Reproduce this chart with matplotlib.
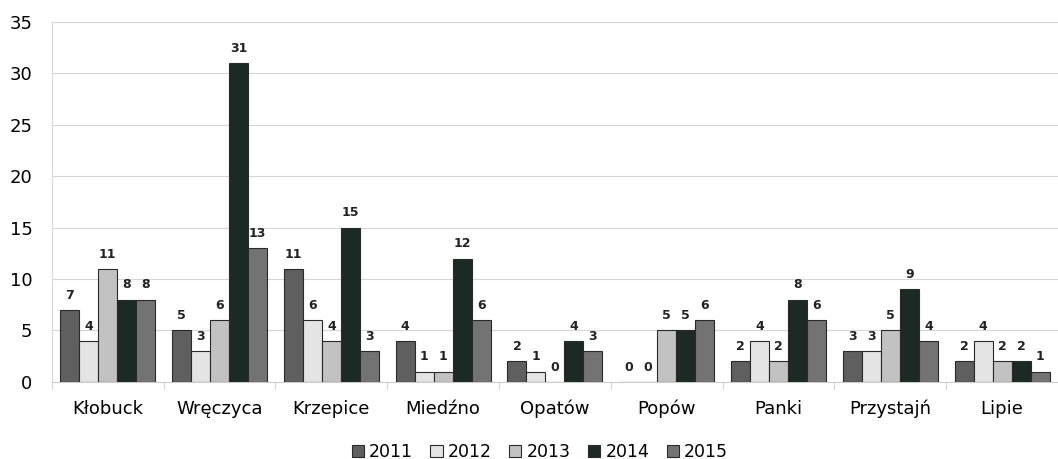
import numpy as np
import matplotlib.pyplot as plt

# Data
gminy = ["Kłobuck", "Wręczyca", "Krzepice", "Miedźno", "Opatów",
         "Popów", "Panki", "Przystajń", "Lipie"]
years = ["2011", "2012", "2013", "2014", "2015"]
v2011 = [7, 5, 11, 4, 2, 0, 2, 3, 2]
v2012 = [4, 3, 6, 1, 1, 0, 4, 3, 4]
v2013 = [11, 6, 4, 1, 0, 5, 2, 5, 2]
v2014 = [8, 31, 15, 12, 4, 5, 8, 9, 2]
v2015 = [8, 13, 3, 6, 3, 6, 6, 4, 1]
series = [v2011, v2012, v2013, v2014, v2015]
colors = ["#5f5f5f", "#e4e4e4", "#c2c2c2", "#1c2a24", "#737373"]

fig = plt.figure(figsize=(10.58, 4.59), dpi=100)
ax = fig.add_axes([0.049, 0.168, 0.951, 0.784])

x = np.arange(len(gminy))
w = 0.17
for i, (vals, c, yr) in enumerate(zip(series, colors, years)):
    pos = x + (i - 2) * w
    bars = ax.bar(pos, vals, w, color=c, edgecolor="#2a2a2a", linewidth=0.8,
                  label=yr, zorder=3)
    for b, v in zip(bars, vals):
        ax.text(b.get_x() + b.get_width() / 2, v + 0.8, str(v),
                ha="center", va="bottom", fontsize=9, fontweight="bold",
                color="#222222")

ax.set_xlim(-0.5, len(gminy) - 0.5)
ax.set_ylim(0, 35)
ax.set_yticks(range(0, 36, 5))
ax.set_xticks(x)
ax.set_xticklabels(gminy, fontsize=13)
ax.tick_params(axis="x", length=0, pad=13)
ax.tick_params(axis="y", length=0, labelsize=13, pad=14)
ax.set_xticks(np.arange(-0.5, len(gminy), 1), minor=True)
ax.tick_params(axis="x", which="minor", length=6, color="#cccccc")

ax.grid(axis="y", color="#d6d6d6", linewidth=0.8, zorder=0)
for s in ["top", "right"]:
    ax.spines[s].set_visible(False)
ax.spines["left"].set_color("#d8d8d8")
ax.spines["bottom"].set_color("#cccccc")

ax.legend(loc="upper center", bbox_to_anchor=(0.485, -0.14), ncol=5,
          frameon=False, fontsize=12.5, handlelength=0.7, handleheight=0.7,
          handletextpad=0.3, columnspacing=1.0, borderpad=0.1)

fig.savefig("out.png", dpi=100)
